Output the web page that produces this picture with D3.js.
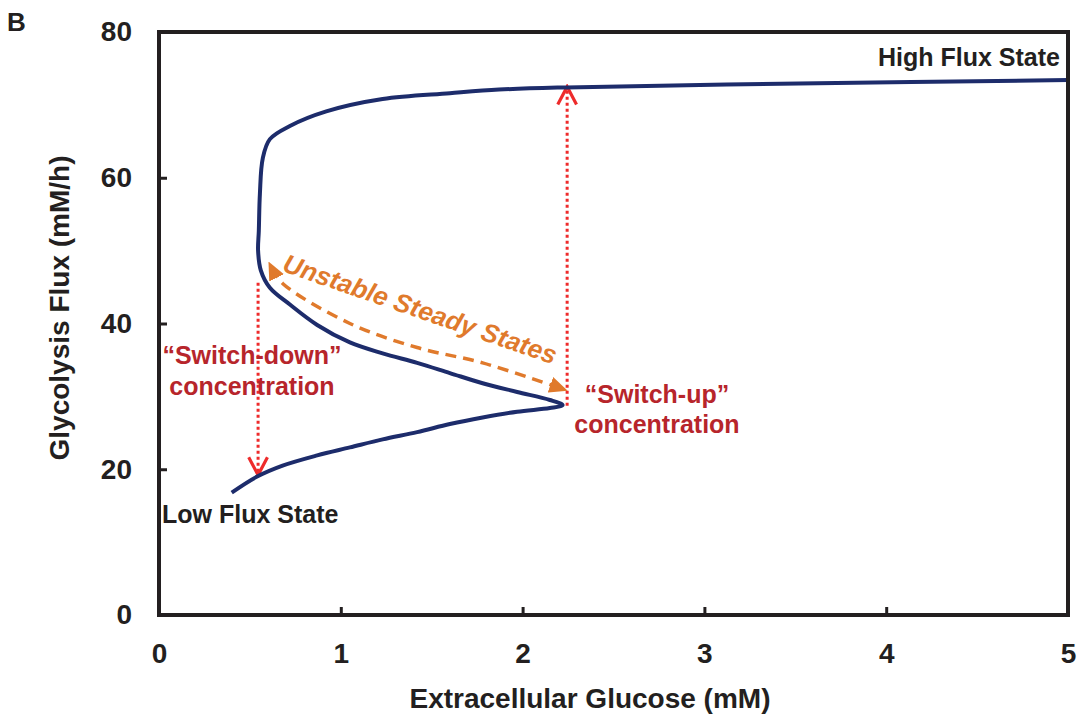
<!DOCTYPE html>
<html>
<head>
<meta charset="utf-8">
<script src="https://cdn.jsdelivr.net/npm/d3@7"></script>
<style>
  body { margin: 0; background: #fff; }
  text { font-family: "Liberation Sans", Arial, sans-serif; font-weight: bold; }
</style>
</head>
<body>
<script>
// Bistable steady-state curve (glucose mM, flux mM/h), traced along the S-shape
const curveX = [0.40, 0.54, 0.68, 0.87, 1.05, 1.23, 1.42, 1.60, 1.78, 1.97, 2.15, 2.22,
                2.15, 1.97, 1.78, 1.60, 1.42, 1.23, 1.05, 0.87, 0.72, 0.61, 0.56, 0.545,
                0.549, 0.555, 0.571, 0.61, 0.72, 0.92, 1.23, 1.60, 1.87, 2.24, 3.52, 5.0];
const curveY = [16.8, 19.0, 20.5, 21.9, 23.0, 24.1, 25.1, 26.2, 27.1, 27.9, 28.4, 28.8,
                29.5, 30.6, 31.8, 33.2, 34.6, 35.9, 37.4, 39.8, 42.6, 44.9, 47.3, 50.0,
                52.7, 57.8, 62.7, 65.3, 67.1, 69.1, 70.8, 71.6, 72.1, 72.4, 72.95, 73.4];

// Unstable branch arrow
const unstableX = [0.62, 0.68, 1.05, 1.42, 1.78, 2.21];
const unstableY = [47.6, 45.5, 40.0, 36.7, 34.6, 31.1];

// Switch thresholds
const switchDown = { x: 0.545, from: 45.6, to: 19.2 };
const switchUp = { x: 2.245, from: 28.7, to: 72.5 };

const xTicks = [0, 1, 2, 3, 4, 5];
const yTicks = [0, 20, 40, 60, 80];

const W = 1078, H = 717;
const margin = { top: 32, right: 10, bottom: 102, left: 159 };

const svg = d3.select("body").append("svg")
    .attr("width", W)
    .attr("height", H);

const x = d3.scaleLinear().domain([0, 5]).range([margin.left, W - margin.right]);
const y = d3.scaleLinear().domain([0, 80]).range([H - margin.bottom, margin.top]);

const orange = "#E07A2C", red = "#EE2B2B", darkRed = "#B7252B", navy = "#1D2C6B", ink = "#231F20";

const defs = svg.append("defs");
defs.append("marker")
    .attr("id", "orangeHead")
    .attr("viewBox", "0 0 10 10")
    .attr("refX", 6).attr("refY", 5)
    .attr("markerWidth", 5.2).attr("markerHeight", 5.2)
    .attr("markerUnits", "strokeWidth")
    .attr("orient", "auto-start-reverse")
    .append("path")
    .attr("d", "M0,0.5 L10,5 L0,9.5 z")
    .attr("fill", orange);
defs.append("marker")
    .attr("id", "redHead")
    .attr("viewBox", "0 0 12 12")
    .attr("refX", 10.5).attr("refY", 6)
    .attr("markerWidth", 7.5).attr("markerHeight", 7.5)
    .attr("markerUnits", "strokeWidth")
    .attr("orient", "auto")
    .append("path")
    .attr("d", "M1,1 L10.5,6 L1,11")
    .attr("fill", "none")
    .attr("stroke", red)
    .attr("stroke-width", 1.7);

// Switch lines (red dotted)
[switchDown, switchUp].forEach(s => {
  svg.append("line")
      .attr("x1", x(s.x)).attr("x2", x(s.x))
      .attr("y1", y(s.from)).attr("y2", y(s.to))
      .attr("stroke", red)
      .attr("stroke-width", 3)
      .attr("stroke-dasharray", "3,3")
      .attr("marker-end", "url(#redHead)");
});

// Main curve
const pts = curveX.map((d, i) => [d, curveY[i]]);
svg.append("path")
    .datum(pts)
    .attr("fill", "none")
    .attr("stroke", navy)
    .attr("stroke-width", 4)
    .attr("stroke-linejoin", "round")
    .attr("d", d3.line().x(d => x(d[0])).y(d => y(d[1])).curve(d3.curveCatmullRom.alpha(0.5)));

// Unstable arrow (orange dashed, both ends)
const upts = unstableX.map((d, i) => [d, unstableY[i]]);
svg.append("path")
    .datum(upts)
    .attr("fill", "none")
    .attr("stroke", orange)
    .attr("stroke-width", 3.5)
    .attr("stroke-dasharray", "11,7")
    .attr("marker-start", "url(#orangeHead)")
    .attr("marker-end", "url(#orangeHead)")
    .attr("d", d3.line().x(d => x(d[0])).y(d => y(d[1])).curve(d3.curveCatmullRom.alpha(0.5)));

svg.append("text")
    .attr("transform", `translate(${x(1.42)},${y(40.8)}) rotate(19)`)
    .attr("text-anchor", "middle")
    .attr("font-size", 26)
    .attr("font-style", "italic")
    .attr("fill", orange)
    .text("Unstable Steady States");

// Axes
const xAxis = svg.append("g")
    .attr("transform", `translate(0,${y(0)})`)
    .call(d3.axisBottom(x).tickValues(xTicks).tickSize(-8).tickPadding(28).tickFormat(d3.format("d")));
const yAxis = svg.append("g")
    .attr("transform", `translate(${x(0)},0)`)
    .call(d3.axisLeft(y).tickValues(yTicks).tickSize(-8).tickPadding(27).tickFormat(d3.format("d")));
[xAxis, yAxis].forEach(g => {
  g.select(".domain").remove();
  g.selectAll("line").attr("stroke", ink).attr("stroke-width", 3);
  g.selectAll("text").attr("font-size", 28).attr("fill", ink)
      .style("font-family", "'Liberation Sans', Arial, sans-serif").style("font-weight", "bold");
});

// Frame
svg.append("rect")
    .attr("x", x(0)).attr("y", y(80))
    .attr("width", x(5) - x(0)).attr("height", y(0) - y(80))
    .attr("fill", "none")
    .attr("stroke", ink)
    .attr("stroke-width", 4);

// Axis titles
svg.append("text")
    .attr("x", 590)
    .attr("y", 708)
    .attr("text-anchor", "middle")
    .attr("font-size", 28)
    .attr("fill", ink)
    .text("Extracellular Glucose (mM)");
svg.append("text")
    .attr("transform", `translate(69,308) rotate(-90)`)
    .attr("text-anchor", "middle")
    .attr("font-size", 28)
    .attr("fill", ink)
    .text("Glycolysis Flux (mM/h)");

svg.append("text")
    .attr("x", 7).attr("y", 31)
    .attr("font-size", 26)
    .attr("fill", ink)
    .text("B");

// State labels
svg.append("text")
    .attr("x", 1060).attr("y", 66)
    .attr("text-anchor", "end")
    .attr("font-size", 25)
    .attr("fill", ink)
    .text("High Flux State");
svg.append("text")
    .attr("x", 162).attr("y", 523)
    .attr("text-anchor", "start")
    .attr("font-size", 25)
    .attr("fill", ink)
    .text("Low Flux State");

// Switch labels
const sd = svg.append("text")
    .attr("text-anchor", "middle")
    .attr("font-size", 25)
    .attr("fill", darkRed);
sd.append("tspan").attr("x", 252).attr("y", 364).text("\u201CSwitch-down\u201D");
sd.append("tspan").attr("x", 252).attr("y", 395).text("concentration");

const su = svg.append("text")
    .attr("text-anchor", "middle")
    .attr("font-size", 25)
    .attr("fill", darkRed);
su.append("tspan").attr("x", 657).attr("y", 403).text("\u201CSwitch-up\u201D");
su.append("tspan").attr("x", 657).attr("y", 433).text("concentration");
</script>
</body>
</html>
